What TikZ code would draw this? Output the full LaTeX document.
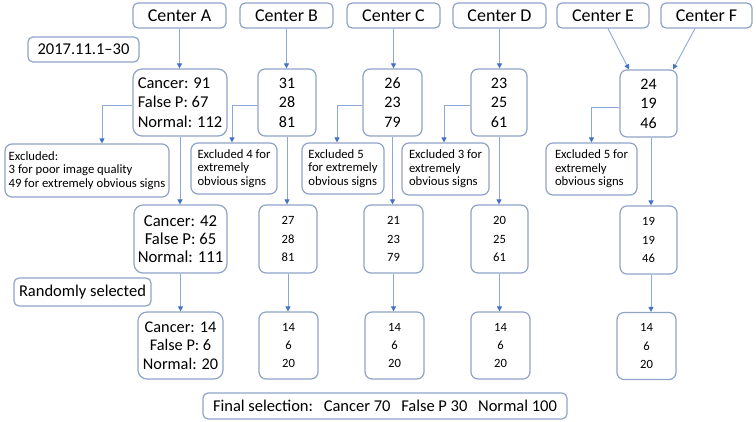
\documentclass[tikz,border=0pt]{standalone}
\usepackage{fontspec}
\setmainfont{Carlito}
\usetikzlibrary{arrows.meta,calc}
\definecolor{bordc}{RGB}{143,163,199}
\definecolor{linec}{RGB}{140,168,218}
\definecolor{headc}{RGB}{68,114,196}
\tikzset{
  box/.style={draw=bordc, line width=1.2pt, rounded corners=7pt, inner sep=0pt, text=black},
  topbox/.style={box, rounded corners=5pt, minimum height=25pt, font=\fontsize{18}{21}\selectfont},
  bigtxt/.style={font=\fontsize{16.5}{19}\selectfont},
  smalltxt/.style={font=\fontsize{12.7}{13.5}\selectfont},
  numtxt/.style={font=\fontsize{12.6}{18.3}\selectfont},
  arr/.style={draw=linec, line width=0.9pt, -{Triangle[length=5pt,width=5pt,color=headc,fill=headc]}},
}
\begin{document}
\begin{tikzpicture}[x=1pt,y=-1pt]
\useasboundingbox (0,0) rectangle (756,422);
% top row
\node[topbox, minimum width=93pt] (cA) at (179.5,15.5) {Center A};
\node[topbox, minimum width=93pt] (cB) at (286.5,15.5) {Center B};
\node[topbox, minimum width=93pt] (cC) at (393.5,15.5) {Center C};
\node[topbox, minimum width=93pt] (cD) at (499.5,15.5) {Center D};
\node[topbox, minimum width=92pt] (cE) at (603,15.5) {Center E};
\node[topbox, minimum width=91pt] (cF) at (706.5,15.5) {Center F};
\node[box, rounded corners=5pt, minimum width=111pt, minimum height=25pt, bigtxt] (date) at (83.5,49.5) {2017.11.1--30};
% row 2
\node[box, rounded corners=9pt, minimum width=94pt, minimum height=67pt, align=left, font=\fontsize{16.5}{19.5}\selectfont] (rA) at (180,102.5) {Cancer: 91\\False P: 67\\Normal: 112};
\node[box, minimum width=58pt, minimum height=67pt, align=center, font=\fontsize{16}{19.5}\selectfont] (rB) at (287,102.5) {31\\28\\81};
\node[box, minimum width=59pt, minimum height=67pt, align=center, font=\fontsize{16}{19.5}\selectfont] (rC) at (392.5,102.5) {26\\23\\79};
\node[box, minimum width=56pt, minimum height=67pt, align=center, font=\fontsize{16}{19.5}\selectfont] (rD) at (499,102.5) {23\\25\\61};
\node[box, minimum width=57pt, minimum height=67pt, align=center, font=\fontsize{16}{19.5}\selectfont] (rE) at (648.5,103.5) {24\\19\\46};
% excluded
\node[box, minimum width=164pt, minimum height=53pt, align=left, smalltxt] (eA) at (87,170.5) {Excluded:\\3 for poor image quality\\49 for extremely obvious signs};
\node[box, minimum width=86pt, minimum height=51pt, align=left, smalltxt] (eB) at (234,168.5) {Excluded 4 for\\extremely\\obvious signs};
\node[box, minimum width=82pt, minimum height=51pt, align=left, smalltxt] (eC) at (343,168.5) {Excluded 5\\for extremely\\obvious signs};
\node[box, minimum width=87pt, minimum height=52pt, align=left, smalltxt] (eD) at (445.5,169) {Excluded 3 for\\extremely\\obvious signs};
\node[box, minimum width=91pt, minimum height=52pt, align=left, smalltxt] (eE) at (591.5,169) {Excluded 5 for\\extremely\\obvious signs};
% row 3
\node[box, rounded corners=9pt, minimum width=93pt, minimum height=68pt, align=center, font=\fontsize{16.7}{18.3}\selectfont] (sA) at (180.5,239) {Cancer: 42\\False P: 65\\Normal: 111};
\node[box, minimum width=58pt, minimum height=68pt, align=center, numtxt] (sB) at (288,239) {27\\28\\81};
\node[box, minimum width=59pt, minimum height=68pt, align=center, numtxt] (sC) at (393.5,239) {21\\23\\79};
\node[box, minimum width=57pt, minimum height=68pt, align=center, numtxt] (sD) at (499.5,239) {20\\25\\61};
\node[box, minimum width=57pt, minimum height=68pt, align=center, numtxt] (sE) at (648.5,240) {19\\19\\46};
\node[box, rounded corners=5pt, minimum width=137pt, minimum height=28pt, bigtxt] (rand) at (82.5,292) {Randomly selected};
% row 4
\node[box, rounded corners=9pt, minimum width=85pt, minimum height=67pt, align=center, font=\fontsize{16.3}{18.5}\selectfont] (tA) at (180.5,345.5) {Cancer: 14\\False P: 6\\Normal: 20};
\node[box, minimum width=59pt, minimum height=67pt, align=center, numtxt] (tB) at (288.5,345.5) {14\\6\\20};
\node[box, minimum width=59pt, minimum height=67pt, align=center, numtxt] (tC) at (394.5,345.5) {14\\6\\20};
\node[box, minimum width=59pt, minimum height=67pt, align=center, numtxt] (tD) at (500.5,345.5) {14\\6\\20};
\node[box, minimum width=59pt, minimum height=67pt, align=center, numtxt] (tE) at (646.5,346) {14\\6\\20};
\node[box, rounded corners=5pt, minimum width=364pt, minimum height=26pt, bigtxt] (final) at (385,406) {Final selection:\hspace{10.7pt}Cancer 70\hspace{10.7pt}False P 30\hspace{10.7pt}Normal 100};
% arrows top -> row2
\draw[arr] (cA.south) -- (cA.south |- rA.north);
\draw[arr] (cB.south) -- (cB.south |- rB.north);
\draw[arr] (cC.south) -- (cC.south |- rC.north);
\draw[arr] (cD.south) -- (cD.south |- rD.north);
\draw[arr] ([xshift=5pt]cE.south) -- ([xshift=-19.5pt]rE.north);
\draw[arr] ([xshift=-11.5pt]cF.south) -- ([xshift=24.5pt]rE.north);
% branches
\draw[arr] ([yshift=-2.5pt]rA.west) -| ([xshift=15pt]eA.north);
\draw[arr] ([yshift=-3pt]rB.west) -| ([xshift=-2pt]eB.north);
\draw[arr] ([yshift=-3pt]rC.west) -| ([xshift=-6pt]eC.north);
\draw[arr] ([yshift=-2.5pt]rD.west) -| ([xshift=-1.5pt]eD.north);
\draw[arr] ([yshift=-3.5pt]rE.west) -| (eE.north);
% row2 -> row3
\draw[arr] (rA.south) -- (rA.south |- sA.north);
\draw[arr] (rB.south) -- (rB.south |- sB.north);
\draw[arr] (rC.south) -- (rC.south |- sC.north);
\draw[arr] (rD.south) -- (rD.south |- sD.north);
\draw[arr] ([xshift=2.5pt]rE.south) -- ([xshift=2.5pt]rE.south |- sE.north);
% row3 -> row4
\draw[arr] (sA.south) -- (sA.south |- tA.north);
\draw[arr] (sB.south) -- (sB.south |- tB.north);
\draw[arr] (sC.south) -- (sC.south |- tC.north);
\draw[arr] (sD.south) -- (sD.south |- tD.north);
\draw[arr] ([xshift=2.5pt]sE.south) -- ([xshift=2.5pt]sE.south |- tE.north);
\end{tikzpicture}
\end{document}
